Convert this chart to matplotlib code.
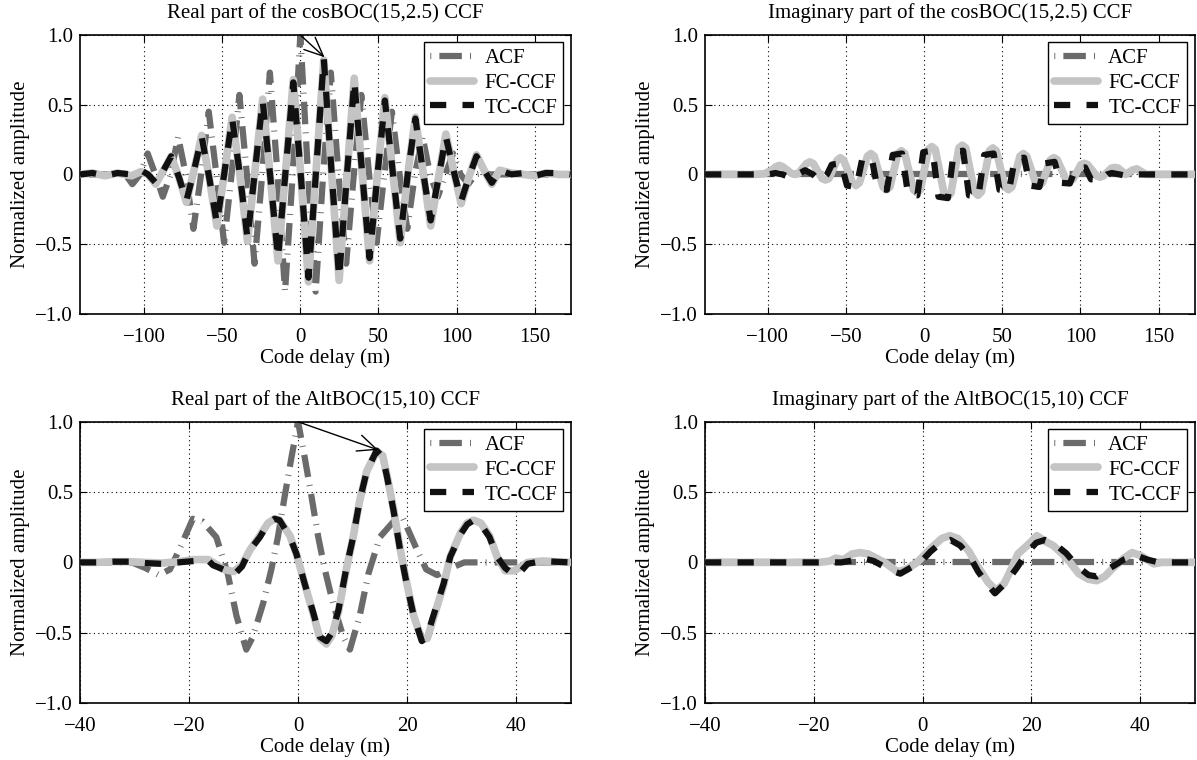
import matplotlib
matplotlib.use('Agg')
import matplotlib.pyplot as plt

plt.rcParams['font.family'] = ['Liberation Serif', 'DejaVu Serif']
plt.rcParams['font.size'] = 15

# ---- cosBOC(15,2.5), real part (code delay in m) ----
cos_real_x = [-141, -133, -125, -117, -108, -102, -97.5, -92.5, -87.5, -82.6,
              -77.7, -72.9, -68, -63.1, -58.2, -53.4, -48.5, -43.6, -38.7, -33.8,
              -29, -24.1, -19.2, -14.3, -9.4, -4.5, 0.4, 5.2, 10.1, 15,
              19.9, 24.8, 29.7, 34.5, 39.4, 44.3, 49.2, 54.1, 59, 63.9,
              68.7, 73.6, 78.5, 83.4, 88.3, 93.1, 98, 102.9, 107.8, 112.7,
              117.6, 122.5, 127.5, 135, 143, 150, 157, 165, 173]
cos_real_tc = [0, 0.01, -0.01, 0.01, 0, 0.03, 0, -0.06, 0.03, 0.13,
               -0.02, -0.19, 0.03, 0.27, -0.03, -0.35, 0.02, 0.40, 0, -0.46,
               0.03, 0.53, -0.02, -0.60, 0.03, 0.66, -0.02, -0.74, 0.03, 0.83,
               0.03, -0.74, -0.02, 0.67, 0.03, -0.60, -0.02, 0.53, 0.03, -0.46,
               0, 0.40, 0.02, -0.33, -0.03, 0.27, 0.03, -0.19, -0.02, 0.13,
               0.03, -0.06, 0.03, 0, 0.01, -0.01, 0.01, 0.01, 0]
cos_real_fc = [0, 0.01, -0.01, 0.01, -0.01, 0.02, 0, -0.07, 0.03, 0.13,
               -0.02, -0.20, 0.03, 0.28, -0.03, -0.37, 0.02, 0.41, 0, -0.48,
               0.03, 0.54, -0.02, -0.62, 0.03, 0.68, -0.02, -0.77, 0.03, 0.82,
               0.03, -0.76, -0.02, 0.69, 0.03, -0.62, -0.02, 0.55, 0.03, -0.49,
               0, 0.41, 0.02, -0.37, -0.03, 0.29, 0.03, -0.21, -0.02, 0.14,
               0.03, -0.07, 0.03, 0.01, 0, -0.01, 0.01, 0, 0]
cos_acf_x = [-141, -122, -117, -112, -107.5, -102.5, -97.7, -92.8, -88, -83,
             -78.2, -73.3, -68.4, -63.5, -58.6, -53.7, -48.8, -44, -39, -34.2,
             -29.3, -24.4, -19.5, -14.6, -9.8, -4.9, 0, 4.9, 9.8, 14.6,
             19.5, 24.4, 29.3, 34.2, 39, 44, 48.8, 53.7, 58.6, 63.5,
             68.4, 73.3, 78.2, 83, 88, 92.8, 97.7, 102.5, 107.5, 112,
             117, 122, 173]
cos_acf = [0, 0, 0.01, 0, -0.07, 0, 0.15, 0, -0.16, 0,
           0.27, 0, -0.39, 0, 0.45, 0, -0.49, 0, 0.57, 0,
           -0.64, 0, 0.73, 0, -0.84, 0, 1.0, 0, -0.84, 0,
           0.73, 0, -0.64, 0, 0.57, 0, -0.49, 0, 0.45, 0,
           -0.39, 0, 0.27, 0, -0.16, 0, 0.15, 0, -0.07, 0,
           0.01, 0, 0]

# ---- cosBOC(15,2.5), imaginary part ----
cos_imag_tc_x = [-140, -108, -104, -99.5, -95, -90.5, -86, -81, -76, -71,
                 -66.5, -62, -59, -53, -49.25, -43.25, -39.5, -33.5, -29.75, -23.75,
                 -20, -14, -10.25, -4.25, -0.5, 5.5, 9.25, 15.25, 19, 25,
                 28.75, 34.75, 38.5, 44.5, 48.25, 54.25, 58, 64, 67.75, 73.75,
                 77.5, 83.5, 87.25, 93.25, 97, 103, 106.75, 112.75, 117, 120,
                 125, 129, 134, 173]
cos_imag_tc = [0, 0, -0.005, 0, 0.01, 0, -0.02, 0, 0.03, 0,
               -0.05, 0, 0.07, 0.08, -0.08, -0.09, 0.11, 0.12, -0.10, -0.11,
               0.14, 0.15, -0.14, -0.15, 0.16, 0.17, -0.16, -0.17, 0.16, 0.17,
               -0.15, -0.16, 0.14, 0.15, -0.11, -0.12, 0.11, 0.12, -0.08, -0.09,
               0.08, 0.09, -0.06, -0.065, 0.045, 0.05, -0.035, -0.04, 0, 0.01,
               0, -0.01, 0, 0]
cos_imag_fc_x = [-140, -108, -102, -97.5,
                 -94.7, -92.5, -90.3, -84.7, -82.5, -80.3,
                 -75.2, -73, -70.8, -65.2, -63, -60.8,
                 -55.7, -53.5, -51.3, -45.7, -43.5, -41.3,
                 -36.2, -34, -31.8, -26.2, -24, -21.8,
                 -16.7, -14.5, -12.3, -6.7, -4.5, -2.3,
                 2.8, 5, 7.2, 12.8, 15, 17.2,
                 22.3, 24.5, 26.7, 32.3, 34.5, 36.7,
                 41.8, 44, 46.2, 51.8, 54, 56.2,
                 61.3, 63.5, 65.7, 71.3, 73.5, 75.7,
                 80.8, 83, 85.2, 90.8, 93, 95.2,
                 100.3, 102.5, 104.7, 110.3, 112.5, 114.7,
                 119.8, 122, 124.2, 129, 133, 136, 139, 142, 173]
cos_imag_fc = [0, 0, 0.005, 0.03,
               0.055, 0.065, 0.055, 0.007, 0, 0.007,
               0.078, 0.09, 0.078, -0.03, -0.04, -0.03,
               0.10, 0.12, 0.10, -0.06, -0.08, -0.06,
               0.13, 0.15, 0.13, -0.09, -0.11, -0.09,
               0.15, 0.17, 0.15, -0.11, -0.13, -0.11,
               0.18, 0.20, 0.18, -0.135, -0.16, -0.135,
               0.19, 0.21, 0.19, -0.125, -0.15, -0.125,
               0.17, 0.19, 0.17, -0.09, -0.11, -0.09,
               0.13, 0.15, 0.13, -0.06, -0.08, -0.06,
               0.105, 0.12, 0.105, -0.035, -0.05, -0.035,
               0.07, 0.08, 0.07, -0.01, -0.02, -0.01,
               0.045, 0.05, 0.045, 0, 0.03, 0.04, 0.02, 0, 0]
cos_imag_acf_x = [-141, 173]
cos_imag_acf = [0, 0]

# ---- AltBOC(15,10), real part ----
alt_real_x = [-40, -37, -34, -31, -28, -25, -22, -19, -16.5, -15.6,
              -13.7, -11.8, -10.3, -8.8, -7, -5.5, -4.3, -3.4, -1.5, -0.3,
              1.2, 2.8, 4, 5.2, 6.2, 7.4, 8.9, 10.1, 11.3, 12.6,
              14.4, 15.5, 16.3, 17.5, 18.7, 19.9, 21.2, 22.7, 23.7, 24.8,
              26.7, 27.9, 29.8, 31, 32.2, 33.5, 35.1, 36.5, 38, 39.6,
              40.5, 42.1, 44.9, 47, 50]
alt_real_tc = [0, 0, 0.005, 0.005, -0.005, -0.01, 0, 0.01, 0.015, -0.02,
               -0.05, -0.09, -0.03, 0.09, 0.18, 0.28, 0.31, 0.30, 0.18, 0.06,
               -0.15, -0.36, -0.53, -0.56, -0.50, -0.34, -0.03, 0.18, 0.44, 0.65,
               0.795, 0.75, 0.61, 0.37, 0.09, -0.15, -0.38, -0.56, -0.52, -0.38,
               -0.15, 0.04, 0.20, 0.27, 0.30, 0.27, 0.18, 0.04, -0.04, -0.09,
               -0.08, -0.01, 0.01, 0.005, 0]
alt_real_fc = [0, 0, 0.005, 0.005, 0, -0.005, 0.005, 0.02, 0.02, 0.0,
               -0.05, -0.065, -0.02, 0.09, 0.19, 0.28, 0.31, 0.30, 0.19, 0.06,
               -0.15, -0.37, -0.54, -0.58, -0.52, -0.35, -0.04, 0.18, 0.44, 0.65,
               0.79, 0.76, 0.62, 0.38, 0.10, -0.14, -0.38, -0.55, -0.54, -0.40,
               -0.16, 0.04, 0.21, 0.28, 0.30, 0.28, 0.19, 0.04, -0.06, -0.06,
               -0.04, 0.0, 0.01, 0.005, 0]
alt_acf_x = [-40, -30.5, -28, -25.5, -23.5, -21.8, -19.3, -17.5, -15, -12.9,
             -11.3, -9.5, -8.3, -6.4, -4.9, -3.7, -2.5, -1.2, 0, 1.2,
             2.5, 3.7, 4.9, 6.4, 8.3, 9.5, 11.3, 12.9, 15, 17.5,
             19.3, 21.8, 23.5, 25.5, 28, 30.5, 50]
alt_acf = [0, 0, -0.04, -0.09, -0.05, 0.09, 0.31, 0.29, 0.18, -0.08,
           -0.38, -0.62, -0.53, -0.29, -0.05, 0.18, 0.46, 0.75, 1.0, 0.75,
           0.46, 0.18, -0.05, -0.29, -0.53, -0.62, -0.38, -0.08, 0.18, 0.29,
           0.31, 0.09, -0.05, -0.09, -0.04, 0, 0]

# ---- AltBOC(15,10), imaginary part ----
alt_imag_tc_x = [-40, -18, -15, -13.5, -11, -9, -7.1, -5.3, -4.1, -2.3,
                 -0.4, 1.4, 3.2, 5.1, 6.9, 8.7, 10.2, 11.8, 13.3, 15.4,
                 17.3, 19.1, 20.9, 22.5, 24, 26.4, 28.5, 30.5, 32, 34.9,
                 37, 39.2, 41.3, 43.4, 50]
alt_imag_tc = [0, 0, 0, 0.01, 0.03, 0.01, -0.03, -0.065, -0.08, -0.04,
               0, 0.075, 0.135, 0.16, 0.12, 0.04, -0.065, -0.15, -0.22, -0.14,
               -0.04, 0.065, 0.14, 0.16, 0.14, 0.065, -0.03, -0.09, -0.1, -0.03,
               0.02, 0.05, 0.02, 0, 0]
alt_imag_fc_x = [-40, -19, -17, -16, -14.5, -13, -11.5, -10, -7, -4.7,
                 -3, -1, 1.5, 3.5, 5, 6.5, 8.5, 10, 12, 13.5,
                 15, 16.5, 17.5, 19.5, 21, 22.5, 24, 26.5, 28.7, 30.5,
                 32, 33.5, 35, 37, 38.5, 40, 42.5, 44, 50]
alt_imag_fc = [0, 0, 0.01, 0.03, 0.02, 0.06, 0.07, 0.06, 0, -0.065,
               -0.05, 0, 0.1, 0.17, 0.19, 0.17, 0.08, -0.02, -0.14, -0.2,
               -0.15, -0.03, 0.06, 0.13, 0.19, 0.15, 0.12, 0.03, -0.08, -0.12,
               -0.13, -0.1, -0.04, 0.03, 0.07, 0.05, -0.01, 0, 0]
alt_imag_acf_x = [-40, 50]
alt_imag_acf = [0, 0]

titles = ['Real part of the cosBOC(15,2.5) CCF',
          'Imaginary part of the cosBOC(15,2.5) CCF',
          'Real part of the AltBOC(15,10) CCF',
          'Imaginary part of the AltBOC(15,10) CCF']
legend_labels = ['ACF', 'FC-CCF', 'TC-CCF']
y_ticks = [-1.0, -0.5, 0, 0.5, 1.0]
y_ticklabels = ['\u22121.0', '\u22120.5', '0', '0.5', '1.0']
cos_xticks = [-100, -50, 0, 50, 100, 150]
alt_xticks = [-40, -20, 0, 20, 40]


def draw_panel(ax, title, acf, fc, tc, xlim, xticks, arrow_end=None):
    # dash-dot: the "dot" is a very short thick dash, looks like a thin bar
    ax.plot(acf[0], acf[1], color='#6b6b6b', lw=4.5,
            ls=(4.85, (3.6, 1.3, 0.15, 1.3)), label=legend_labels[0], zorder=2)
    ax.plot(fc[0], fc[1], color='#c4c4c4', lw=5.5, solid_joinstyle='round',
            solid_capstyle='round', label=legend_labels[1], zorder=3)
    ax.plot(tc[0], tc[1], color='#111111', lw=4.5, ls=(0, (2.6, 2.6)),
            label=legend_labels[2], zorder=4)
    if arrow_end is not None:
        ax.annotate('', xy=arrow_end, xytext=(0, 1.0),
                    arrowprops=dict(arrowstyle='->,head_length=0.9,head_width=0.4',
                                    lw=1, color='k', shrinkA=0, shrinkB=0),
                    zorder=6)
    ax.set_xlim(*xlim)
    ax.set_ylim(-1, 1)
    ax.set_xticks(xticks)
    ax.set_yticks(y_ticks)
    ax.set_yticklabels(y_ticklabels)
    ax.grid(True, color='k', lw=0.8, ls=(0, (1, 3)))
    ax.tick_params(direction='in', top=True, right=True, length=5, width=0.8,
                   labelsize=15, pad=5)
    ax.tick_params(axis='x', pad=10)
    for s in ax.spines.values():
        s.set_linewidth(1.2)
    ax.set_title(title, fontsize=15, pad=12)
    ax.set_xlabel('Code delay (m)', fontsize=15, labelpad=1)
    ax.set_ylabel('Normalized amplitude', fontsize=15, labelpad=4)
    leg = ax.legend(loc='upper right', fontsize=15, fancybox=False,
                    framealpha=1, edgecolor='k', handlelength=2.1,
                    handletextpad=0.5, labelspacing=0.25, borderpad=0.3,
                    borderaxespad=0.35)
    leg.get_frame().set_linewidth(1.0)


fig = plt.figure(figsize=(11.97, 7.6), dpi=100)
ax1 = fig.add_axes([0.0668, 0.587, 0.410, 0.367])
ax2 = fig.add_axes([0.589, 0.587, 0.409, 0.367])
ax3 = fig.add_axes([0.0668, 0.075, 0.410, 0.370])
ax4 = fig.add_axes([0.589, 0.075, 0.409, 0.370])

draw_panel(ax1, titles[0], (cos_acf_x, cos_acf), (cos_real_x, cos_real_fc),
           (cos_real_x, cos_real_tc), (-141, 173), cos_xticks, arrow_end=(15.5, 0.84))
draw_panel(ax2, titles[1], (cos_imag_acf_x, cos_imag_acf),
           (cos_imag_fc_x, cos_imag_fc), (cos_imag_tc_x, cos_imag_tc),
           (-140, 173), cos_xticks)
draw_panel(ax3, titles[2], (alt_acf_x, alt_acf), (alt_real_x, alt_real_fc),
           (alt_real_x, alt_real_tc), (-40, 50), alt_xticks, arrow_end=(14.7, 0.80))
draw_panel(ax4, titles[3], (alt_imag_acf_x, alt_imag_acf),
           (alt_imag_fc_x, alt_imag_fc), (alt_imag_tc_x, alt_imag_tc),
           (-40, 50), alt_xticks)

fig.savefig('out.png', dpi=100)
